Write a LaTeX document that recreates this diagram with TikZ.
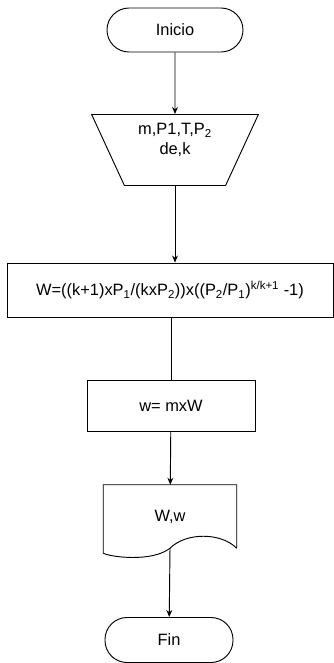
\documentclass[tikz,border=0pt]{standalone}
\usepackage{fontspec}
\setmainfont{Liberation Sans}
\usepackage{tikz}
\usetikzlibrary{positioning,arrows.meta,shapes.geometric,calc}

\begin{document}
\begin{tikzpicture}[
    x=0.03cm, y=-0.03cm,
    node font=\fontsize{14}{16}\selectfont,
    line/.style={draw, -{Stealth[length=6pt,width=5pt]}, thick},
    plainline/.style={draw, thick},
    terminal/.style={draw, thick, rectangle, rounded corners=0.66cm, minimum width=4.08cm, minimum height=1.32cm},
    entrada/.style={draw, thick, trapezium, shape border rotate=180, trapezium left angle=67, trapezium right angle=67, trapezium stretches=true, minimum width=5.01cm, minimum height=2.13cm, align=center},
    proceso/.style={draw, thick, rectangle, align=center},
    salida/.style={rectangle, minimum width=3.99cm, minimum height=1.89cm}
]
\useasboundingbox (0,0) rectangle (334,663);

\node[terminal] (inicio) at (175,30) {Inicio};
\node[entrada] (datos) at (175,150) {m,P1,T,P\textsubscript{2}\\[1pt]de,k\\[3pt]\mbox{}};
\node[proceso, minimum width=9.78cm, minimum height=1.62cm] (formula) at (170,290)
    {W=((k+1)xP\textsubscript{1}/(kxP\textsubscript{2}))x((P\textsubscript{2}/P\textsubscript{1})\textsuperscript{k/k+1} -1)};
\node[proceso, minimum width=5.04cm, minimum height=1.53cm] (calc) at (171,406) {w= mxW};
\node[salida] (doc) at (170,516.5) {W,w};
\node[terminal, minimum width=3.84cm, minimum height=1.35cm] (fin) at (169,640) {Fin};

% documento
\draw[thick] (doc.south east) -- (doc.north east) -- (doc.north west) -- ($(doc.south west)+(0,5)$)
    .. controls ($(doc.south west)+(8,9)$) and ($(doc.south)+(-18,14)$) .. (doc.south)
    .. controls ($(doc.south)+(16,-16)$) and ($(doc.south east)+(-16,-16)$) .. (doc.south east);

\path[line] (inicio) -- (datos);
\path[line] (datos.south) -- (datos.south |- formula.north);
\path[plainline] (formula.south -| calc.north) -- (calc.north);
\path[line] (calc) -- (doc);
\path[line] (doc.south) -- (fin);

\end{tikzpicture}
\end{document}
